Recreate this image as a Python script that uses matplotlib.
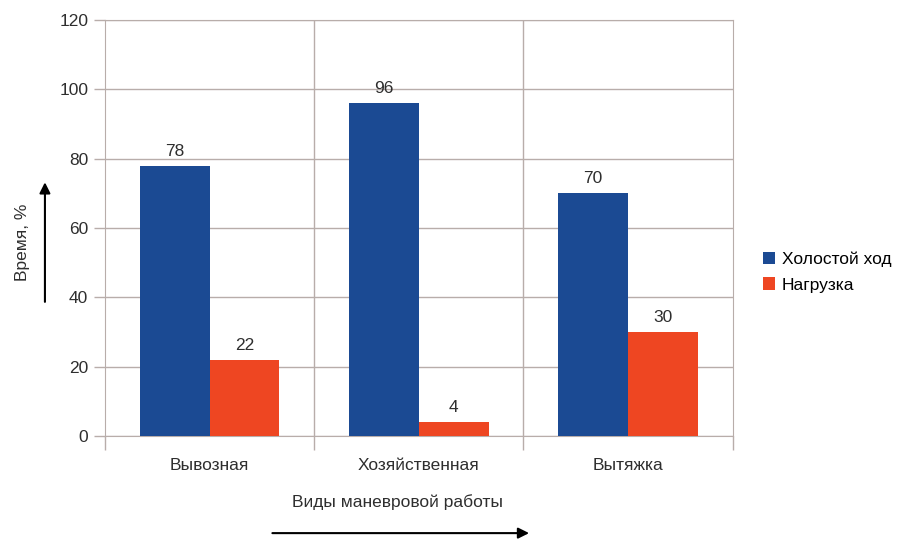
import numpy as np
import matplotlib.pyplot as plt

plt.rcParams['font.family'] = ['Liberation Sans', 'DejaVu Sans']

categories = ['Вывозная', 'Хозяйственная', 'Вытяжка']
idle = [78, 96, 70]   # Холостой ход
load = [22, 4, 30]    # Нагрузка

blue = '#1b4a93'
orange = '#ee4622'
grid_col = '#b8adaa'
txt = '#2e2e2e'

fig = plt.figure(figsize=(9.17, 5.44), dpi=100)
ax = fig.add_axes([0.1145, 0.1985, 0.6845, 0.7645])

x = np.arange(len(categories))
w = 1 / 3
b1 = ax.bar(x - w / 2, idle, w, color=blue, label='Холостой ход', zorder=3)
b2 = ax.bar(x + w / 2, load, w, color=orange, label='Нагрузка', zorder=3)
ax.bar_label(b1, padding=5, fontsize=12.5, color=txt)
ax.bar_label(b2, padding=5, fontsize=12.5, color=txt)

ax.set_xlim(-0.5, 2.5)
ax.set_ylim(0, 120)
ax.set_yticks(range(0, 121, 20))
ax.tick_params(axis='y', length=8, width=1, color=grid_col, labelsize=12.5,
               labelcolor=txt, pad=4)

# category labels centred, ticks on category boundaries
ax.set_xticks(x)
ax.set_xticklabels(categories, fontsize=12.5, color=txt)
ax.tick_params(axis='x', length=0, pad=16)
ax.set_xticks([-0.5, 0.5, 1.5, 2.5], minor=True)
ax.tick_params(axis='x', which='minor', length=10, width=1, color=grid_col)

ax.grid(axis='y', color=grid_col, lw=1, zorder=0)
for xv in [0.5, 1.5]:
    ax.axvline(xv, color=grid_col, lw=1, zorder=0)
for s in ax.spines.values():
    s.set_color(grid_col)

fig.text(0.024, 0.555, 'Время, %', rotation=90, ha='center', va='center',
         fontsize=12.5, color=txt)
fig.text(0.433, 0.077, 'Виды маневровой работы', ha='center', va='center',
         fontsize=12.5, color=txt)

# arrows next to axis titles
fig.add_artist(plt.matplotlib.patches.FancyArrowPatch(
    (0.049, 0.44), (0.049, 0.67), transform=fig.transFigure,
    arrowstyle='-|>', mutation_scale=16, color='black', lw=1.5))
fig.add_artist(plt.matplotlib.patches.FancyArrowPatch(
    (0.294, 0.02), (0.58, 0.02), transform=fig.transFigure,
    arrowstyle='-|>', mutation_scale=16, color='black', lw=1.5))

fig.legend(loc='center left', bbox_to_anchor=(0.815, 0.5), frameon=False,
           fontsize=12.5, handlelength=0.7, handleheight=0.7, handletextpad=0.4,
           labelspacing=0.6)

fig.savefig('out.png', dpi=100)
